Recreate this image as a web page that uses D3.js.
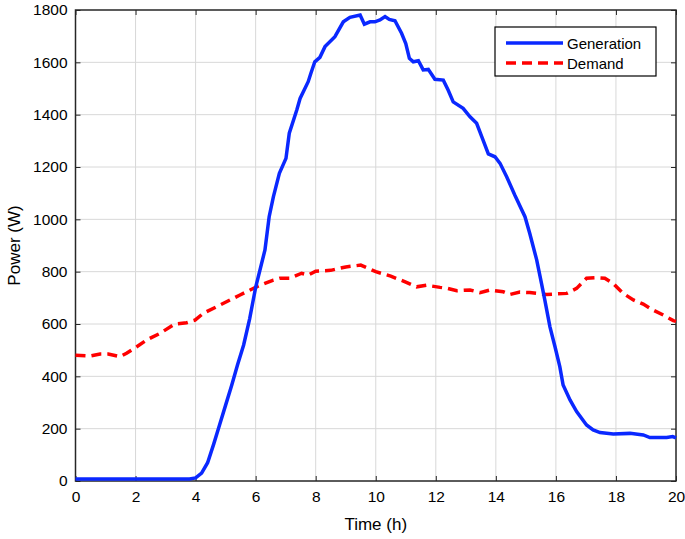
<!DOCTYPE html>
<html><head><meta charset="utf-8">
<script src="https://cdn.jsdelivr.net/npm/d3@7"></script>
<style>body{margin:0;background:#fff}svg{display:block}text{font-family:"Liberation Sans",Arial,sans-serif}</style>
</head><body>
<script>
const genTime = [0,1,2,3,3.8,4.0,4.2,4.4,4.6,4.8,5.0,5.2,5.4,5.6,5.8,6.0,6.31,6.45,6.59,6.79,7.01,7.12,7.37,7.48,7.75,7.84,7.97,8.14,8.31,8.64,8.92,9.14,9.48,9.62,9.81,9.97,10.14,10.31,10.45,10.64,10.86,11.0,11.12,11.25,11.42,11.58,11.75,11.97,12.25,12.41,12.58,12.91,13.14,13.36,13.53,13.75,13.97,14.14,14.36,14.63,14.97,15.13,15.36,15.52,15.63,15.80,15.97,16.13,16.24,16.47,16.69,17.02,17.24,17.47,17.91,18.47,18.91,19.13,19.69,19.89,20];
const genPower = [8,8,8,8,8,12,30,70,140,215,290,365,445,520,620,740,883,1010,1086,1176,1233,1329,1418,1462,1526,1558,1602,1619,1660,1698,1755,1772,1781,1746,1755,1755,1762,1775,1764,1759,1711,1672,1615,1602,1606,1571,1573,1535,1532,1494,1449,1424,1392,1367,1316,1250,1239,1214,1163,1093,1010,946,845,755,692,590,513,437,367,310,265,214,195,185,180,182,176,166,166,170,165];
const demTime = [0,0.5,0.82,1.09,1.48,1.70,2.04,2.37,2.81,3.31,3.70,3.98,4.26,4.70,5.03,5.48,6.03,6.59,6.81,7.14,7.53,7.75,8.0,8.5,9.0,9.5,10.0,10.5,11.0,11.36,11.7,12.14,12.35,12.70,13.14,13.47,13.80,14.25,14.47,14.80,15.13,15.69,16.36,16.69,17.02,17.36,17.63,17.91,18.24,18.58,18.91,19.24,19.58,19.91,20];
const demPower = [481,478,485,485,475,488,513,539,564,600,605,615,641,666,685,711,742,768,775,775,794,787,802,805,818,825,800,783,760,742,748,740,737,727,730,720,730,723,713,722,720,713,717,736,775,777,775,755,717,692,676,653,634,613,610];
const xTicks = [0,2,4,6,8,10,12,14,16,18,20];
const yTicks = [0,200,400,600,800,1000,1200,1400,1600,1800];
const seriesNames = ["Generation","Demand"];

const W=685,H=539, L=75.5, R=676, T=10, B=481;
const svg = d3.select("body").append("svg").attr("width",W).attr("height",H);
const x = d3.scaleLinear().domain([0,20]).range([L,R]);
const y = d3.scaleLinear().domain([0,1800]).range([B,T]);

// grid
svg.append("g").selectAll("line").data(xTicks.slice(1,-1)).join("line")
  .attr("x1",d=>x(d)).attr("x2",d=>x(d)).attr("y1",T).attr("y2",B)
  .attr("stroke","#d8d8d8").attr("stroke-width",1);
svg.append("g").selectAll("line").data(yTicks.slice(1,-1)).join("line")
  .attr("y1",d=>y(d)).attr("y2",d=>y(d)).attr("x1",L).attr("x2",R)
  .attr("stroke","#d8d8d8").attr("stroke-width",1);

// axes
const ax = g=>g.selectAll("text").attr("font-size",15.5).attr("fill","#000");
svg.append("g").attr("transform",`translate(0,${B})`)
  .call(d3.axisBottom(x).tickValues(xTicks).tickSize(-5).tickPadding(10).tickSizeOuter(0).tickFormat(d3.format("d")))
  .call(g=>g.select(".domain").remove()).call(ax);
svg.append("g").attr("transform",`translate(0,${T})`)
  .call(d3.axisTop(x).tickValues(xTicks).tickSize(-5).tickFormat("").tickSizeOuter(0))
  .call(g=>g.select(".domain").remove());
svg.append("g").attr("transform",`translate(${L},0)`)
  .call(d3.axisLeft(y).tickValues(yTicks).tickSize(-5).tickPadding(8).tickSizeOuter(0).tickFormat(d3.format("d")))
  .call(g=>g.select(".domain").remove()).call(ax);
svg.append("g").attr("transform",`translate(${R},0)`)
  .call(d3.axisRight(y).tickValues(yTicks).tickSize(-5).tickFormat("").tickSizeOuter(0))
  .call(g=>g.select(".domain").remove());
svg.selectAll(".tick line").attr("stroke","#262626");
svg.append("rect").attr("x",L).attr("y",T).attr("width",R-L).attr("height",B-T)
  .attr("fill","none").attr("stroke","#262626").attr("stroke-width",1.5);

// lines
const lineG = d3.line().x(d=>x(d[0])).y(d=>y(d[1]));
svg.append("path").datum(demTime.map((t,i)=>[t,demPower[i]])).attr("d",lineG)
  .attr("fill","none").attr("stroke","#ff0000").attr("stroke-width",3.5).attr("stroke-dasharray","10,6");
svg.append("path").datum(genTime.map((t,i)=>[t,genPower[i]])).attr("d",lineG)
  .attr("fill","none").attr("stroke","#0a28ff").attr("stroke-width",3.5);

// labels
svg.append("text").attr("x",(L+R)/2).attr("y",530).attr("text-anchor","middle").attr("font-size",17).text("Time (h)");
svg.append("text").attr("transform",`translate(20,${(T+B)/2}) rotate(-90)`).attr("text-anchor","middle").attr("font-size",17).text("Power (W)");

// legend
const lg = svg.append("g");
lg.append("rect").attr("x",495).attr("y",27).attr("width",161).attr("height",49).attr("fill","#fff").attr("stroke","#000").attr("stroke-width",1.2);
const colors=["#0a28ff","#ff0000"], dashes=[null,"10,6"];
seriesNames.forEach((n,i)=>{
  const yy = 43+i*20;
  lg.append("line").attr("x1",506).attr("x2",563).attr("y1",yy).attr("y2",yy)
    .attr("stroke",colors[i]).attr("stroke-width",3.5).attr("stroke-dasharray",dashes[i]);
  lg.append("text").attr("x",567).attr("y",yy+5.5).attr("font-size",15).text(n);
});
</script>
</body></html>
